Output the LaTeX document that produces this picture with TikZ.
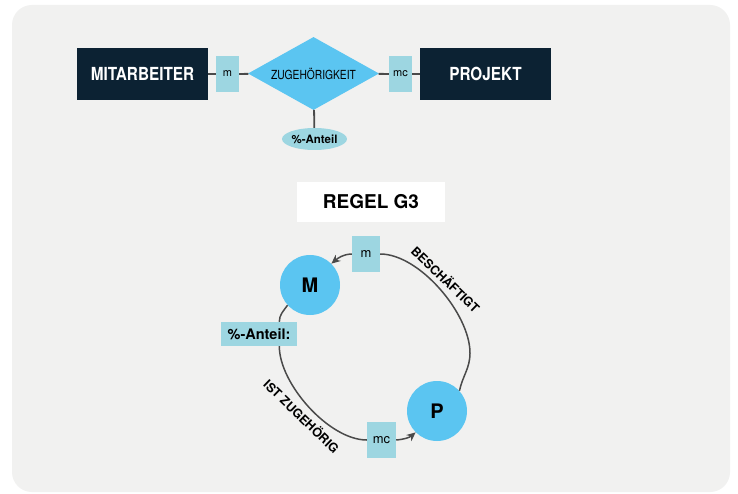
\documentclass[tikz,border=0pt]{standalone}
\usepackage{fontspec}
\setmainfont{TeX Gyre Heros}
\usepackage{tikz}
\usetikzlibrary{shapes.geometric,arrows.meta}
\definecolor{navy}{HTML}{0C2233}
\definecolor{lightbox}{HTML}{9DD6E1}
\definecolor{skyblue}{HTML}{5BC5F1}
\definecolor{panelgray}{HTML}{F1F1F0}
\definecolor{linegray}{HTML}{4A4A4A}
\newcommand{\narrowtext}[2]{\scalebox{#1}[1]{#2}}

\begin{document}
\begin{tikzpicture}[x=1pt,y=1pt,
	entity/.style={fill=navy,text=white,minimum width=131pt,minimum height=52pt,inner sep=0pt,font=\fontsize{18}{20}\selectfont\bfseries},
	card/.style={fill=lightbox,inner sep=0pt,minimum width=23pt,minimum height=36pt,font=\fontsize{11}{13}\selectfont},
	relation/.style={diamond,fill=skyblue,aspect=1.8,minimum width=131pt,minimum height=73pt,inner sep=0pt},
	attrib/.style={ellipse,fill=lightbox,minimum width=63pt,minimum height=22pt,inner sep=0pt,font=\fontsize{11.5}{13}\selectfont\bfseries},
	ball/.style={circle,fill=skyblue,minimum size=60pt,inner sep=0pt,font=\fontsize{20}{22}\selectfont\bfseries},
	erline/.style={draw=linegray,line width=1.8pt},
	loopline/.style={draw=linegray,line width=1.5pt},
	looparrow/.style={loopline,-{Stealth[length=9pt,width=8pt]}},
	rolelabel/.style={font=\fontsize{12.5}{15}\selectfont\bfseries,rotate=-44}]
		\useasboundingbox (0,0) rectangle (738,493);
		\fill[white] (0,0) rectangle (738,493);
		\fill[panelgray,rounded corners=20pt] (12,1) rectangle (730,488);
		\node[entity] (mit) at (142.5,419) {\narrowtext{0.85}{MITARBEITER}};
		\node[card] (m1) at (227.5,419) {m};
		\node[relation] (zug) at (313.5,419.5) {\narrowtext{0.82}{\fontsize{12.5}{14}\selectfont ZUGEHÖRIGKEIT}};
		\node[card] (mc1) at (400.5,419) {mc};
		\node[entity] (pro) at (485.5,419) {\narrowtext{0.85}{PROJEKT}};
		\node[attrib] (anteil1) at (314.5,354) {\%-Anteil};
		\draw[erline] (mit) -- (m1) -- (zug) -- (mc1) -- (pro);
		\draw[erline] (zug) -- (anteil1);
		\node[fill=white,minimum width=148pt,minimum height=40pt,inner sep=0pt,font=\fontsize{19}{21}\selectfont\bfseries] (regel) at (371,291) {REGEL G3};
		\node[ball] (M) at (310,208) {M};
		\node[ball] (P) at (437,82) {P};
		\node[card,minimum width=28pt,font=\fontsize{13}{15}\selectfont] (m2) at (366,239) {m};
		\node[card,minimum width=29pt,font=\fontsize{13}{15}\selectfont] (mc2) at (381.5,53) {mc};
		\node[fill=lightbox,minimum width=76pt,minimum height=24pt,inner sep=0pt,font=\fontsize{14.5}{16}\selectfont\bfseries] (anteil2) at (259,159) {\%-Anteil:};
		\coordinate (rgt) at (470,140);
		\draw[loopline] (P.42) to[out=78,in=-90] (rgt) to[out=90,in=0,looseness=0.75] (m2.east);
		\draw[looparrow] (m2.west) to[out=182,in=40] (M.45);
		\draw[loopline] (M.222) to[out=235,in=90] (anteil2.31);
		\draw[loopline] (anteil2.-31) to[out=-90,in=180,looseness=0.75] (mc2.west);
		\draw[looparrow] (mc2.east) to[out=5,in=220] (P.225);
		\node[rolelabel] at (446,214) {BESCHÄFTIGT};
		\node[rolelabel] at (302,77) {IST ZUGEHÖRIG};
\end{tikzpicture}
\end{document}
